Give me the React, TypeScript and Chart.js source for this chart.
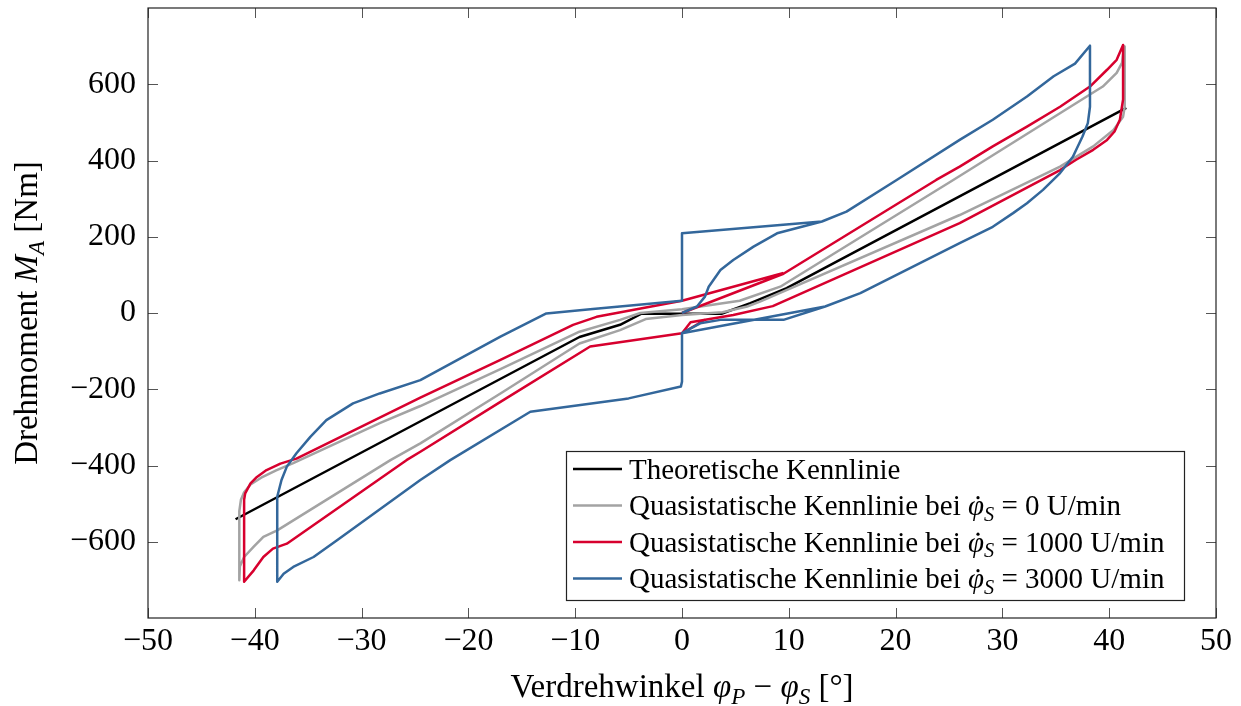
import React, { useEffect, useRef } from "react";
import { Chart, registerables } from "chart.js";

Chart.register(...registerables);

const FONT = "'Liberation Serif', 'Times New Roman', serif";
const TICK_SIZE = 32;
const TITLE_SIZE = 33;
const LEGEND_SIZE = 29;

const xTickValues = [-50, -40, -30, -20, -10, 0, 10, 20, 30, 40, 50];
const yTickValues = [-600, -400, -200, 0, 200, 400, 600];

// Theoretische Kennlinie
const theoX = [-41.8, -9.6, -5.8, -3.8, 3.7, 6.4, 9.8, 41.6];
const theoY = [-541, -63, -31, -2, -2, 26, 65, 538];

// Quasistatische Kennlinie, 0 U/min (null = Lücke)
const q0X = [
  -41.45, -41.45, -41.3, -41.0, -40.4, -39.4, -38.0, -36.4, -28.3, -24.5, -17, -9.6, -5.8, -3.9, 0, 5.4, 9.2,
  25.4, 37.9, 39.4, 40.7, 41.2, 41.4,
  41.45, 41.45, 41.3, 40.4, 38.5, 35.4, 26, 7.3, 6.1, 3.8, 0, -3.4, -5.8, -9.6, -17, -24.5, -27.3, -37.9,
  -39.2, -40.1, -41.0, -41.4, -41.45,
];
const q0Y = [
  -701, -520, -490, -470, -450, -432, -413, -394, -289, -244, -147, -49, -18, 0, 10, 32, 69,
  349, 568, 594, 630, 656, 699,
  699, 540, 515, 480, 437, 384, 257, 30, 17, 2, -5, -16, -45, -80, -211, -342, -386, -570,
  -587, -613, -640, -665, -701,
];

// Quasistatische Kennlinie, 1000 U/min
const q1000X = [
  0, 9.5, 23.8, 26, 29.1, 32.3, 35.4, 38.2, 39.8, 40.7, 41.3,
  41.3, 41.0, 40.5, 39.8, 38.5, 36.9, 35.4, 26, 8.5, 4.8, 0.8, 0, -8.6, -17, -24.5, -25.8, -37, -38.3,
  -39.2, -40.1, -41.0,
  -41.0, -40.9, -40.4, -39.8, -38.9, -37.6, -36.1, -24.5, -17, -10.2, -8, 0, 9.5,
  null, 0, 2.2,
];
const q1000Y = [
  0, 103, 349, 384, 437, 489, 541, 594, 638, 664, 703,
  560, 507, 476, 454, 428, 402, 375, 236, 18, -5, -24, -53, -88, -233, -364, -386, -605, -618,
  -640, -675, -705,
  -490, -473, -447, -430, -412, -395, -382, -222, -123, -31, -10, 32, 105,
  null, -53, -17,
];

// Quasistatische Kennlinie, 3000 U/min
const q3000X = [
  0, 1.4, 2.15, 2.5, 3.6, 4.8, 6.7, 8.9, 13.1, 15.4, 20.1, 26, 29.1, 32.3, 34.8, 36.8, 38.2,
  38.2, 38.0, 37.5, 36.6, 35.4, 33.8, 32.3, 31, 29.1, 26, 16.7, 13.4, 9.5, 3.6, 1.7, 0, 0, -0.1,
  -5, -14.2, -21.7, -24.5, -32.3, -34.5, -36.4, -37.3, -37.9,
  -37.9, -37.5, -37, -36.1, -34.8, -33.3, -30.8, -28.3, -24.5, -17, -12.7, -8.6, 0, 0, 13.1,
  null, 13.4, 0,
];
const q3000Y = [
  0, 17, 43, 69, 113, 139, 174, 209, 240, 266, 349, 454, 507, 568, 621, 654, 701,
  541, 498, 463, 410, 367, 323, 288, 262, 226, 183, 52, 17, -18, -18, -27, -53, -180, -193,
  -224, -259, -386, -438, -596, -640, -666, -684, -705,
  -482, -438, -403, -368, -325, -281, -237, -211, -176, -62, -1, 10, 32, 209, 240,
  null, 17, -53,
];

const seriesX = [theoX, q0X, q1000X, q3000X];
const seriesY = [theoY, q0Y, q1000Y, q3000Y];
const seriesColors = ["#000000", "#a3a3a3", "#d7002e", "#33679b"];
const legendRpm = [null, "0", "1000", "3000"];

type Seg = { t: string; it?: boolean; sub?: boolean; dot?: boolean };

const segFont = (s: Seg, size: number) =>
  `${s.it ? "italic " : ""}${s.sub ? size * 0.7 : size}px ${FONT}`;

function measureRich(ctx: CanvasRenderingContext2D, segs: Seg[], size: number) {
  let w = 0;
  for (const s of segs) {
    ctx.font = segFont(s, size);
    w += ctx.measureText(s.t).width;
  }
  return w;
}

function drawRich(ctx: CanvasRenderingContext2D, segs: Seg[], x: number, y: number, size: number) {
  let cx = x;
  ctx.textBaseline = "alphabetic";
  ctx.textAlign = "left";
  for (const s of segs) {
    ctx.font = segFont(s, size);
    const w = ctx.measureText(s.t).width;
    ctx.fillText(s.t, cx, y + (s.sub ? size * 0.2 : 0));
    if (s.dot) {
      ctx.beginPath();
      ctx.arc(cx + w * 0.62, y - size * 0.6, size * 0.055, 0, Math.PI * 2);
      ctx.fill();
    }
    cx += w;
  }
}

const fmt = (v: number) => (v < 0 ? "\u2212" + Math.abs(v) : String(v));

const decorPlugin = {
  id: "decor",
  afterDraw(chart: any) {
    const { ctx, chartArea: a, scales } = chart;
    ctx.save();

    // inward ticks on all four sides
    ctx.strokeStyle = "#555";
    ctx.lineWidth = 1;
    const tl = 10;
    ctx.beginPath();
    for (const v of xTickValues) {
      const px = Math.round(scales.x.getPixelForValue(v)) + 0.5;
      ctx.moveTo(px, a.bottom);
      ctx.lineTo(px, a.bottom - tl);
      ctx.moveTo(px, a.top);
      ctx.lineTo(px, a.top + tl);
    }
    for (const v of yTickValues) {
      const py = Math.round(scales.y.getPixelForValue(v)) + 0.5;
      ctx.moveTo(a.left, py);
      ctx.lineTo(a.left + tl, py);
      ctx.moveTo(a.right, py);
      ctx.lineTo(a.right - tl, py);
    }
    ctx.stroke();

    // frame
    ctx.strokeStyle = "#222";
    ctx.lineWidth = 1.2;
    ctx.strokeRect(a.left, a.top, a.right - a.left, a.bottom - a.top);

    ctx.fillStyle = "#000";

    // x axis title
    const xTitle: Seg[] = [
      { t: "Verdrehwinkel " },
      { t: "\u03c6", it: true },
      { t: "P", it: true, sub: true },
      { t: " \u2212 " },
      { t: "\u03c6", it: true },
      { t: "S", it: true, sub: true },
      { t: " [\u00b0]" },
    ];
    const xw = measureRich(ctx, xTitle, TITLE_SIZE);
    drawRich(ctx, xTitle, (a.left + a.right) / 2 - xw / 2, 697, TITLE_SIZE);

    // y axis title
    const yTitle: Seg[] = [
      { t: "Drehmoment " },
      { t: "M", it: true },
      { t: "A", it: true, sub: true },
      { t: " [Nm]" },
    ];
    const yw = measureRich(ctx, yTitle, TITLE_SIZE);
    ctx.save();
    ctx.translate(37, (a.top + a.bottom) / 2);
    ctx.rotate(-Math.PI / 2);
    drawRich(ctx, yTitle, -yw / 2, 0, TITLE_SIZE);
    ctx.restore();

    // legend
    const bx = 566, by = 451, bw = 618, bh = 149;
    ctx.fillStyle = "#fff";
    ctx.fillRect(bx, by, bw, bh);
    ctx.strokeStyle = "#222";
    ctx.lineWidth = 1.2;
    ctx.strokeRect(bx + 0.5, by + 0.5, bw, bh);
    const rowY = [469, 505.5, 542, 578.5];
    for (let i = 0; i < 4; i++) {
      const y = rowY[i];
      ctx.strokeStyle = seriesColors[i];
      ctx.lineWidth = 2.5;
      ctx.beginPath();
      ctx.moveTo(573, y);
      ctx.lineTo(622, y);
      ctx.stroke();
      ctx.fillStyle = "#000";
      const rpm = legendRpm[i];
      const segs: Seg[] =
        rpm === null
          ? [{ t: "Theoretische Kennlinie" }]
          : [
              { t: "Quasistatische Kennlinie bei " },
              { t: "\u03c6", it: true, dot: true },
              { t: "S", it: true, sub: true },
              { t: " = " + rpm + " U/min" },
            ];
      drawRich(ctx, segs, 629, y + LEGEND_SIZE * 0.33, LEGEND_SIZE);
    }

    ctx.restore();
  },
};

export default function App() {
  const ref = useRef<HTMLCanvasElement | null>(null);

  useEffect(() => {
    if (!ref.current) return;
    const datasets = seriesX.map((xs, i) => ({
      data: xs.map((x, j) => ({ x: x as any, y: seriesY[i][j] as any })),
      borderColor: seriesColors[i],
      backgroundColor: seriesColors[i],
      borderWidth: 2.5,
      pointRadius: 0,
      tension: 0,
      fill: false,
      spanGaps: false,
      order: 4 - i,
      borderJoinStyle: "round" as const,
    }));

    const chart = new Chart(ref.current, {
      type: "line",
      data: { datasets },
      options: {
        responsive: false,
        animation: false,
        devicePixelRatio: 1,
        events: [],
        layout: { padding: { left: 0, right: 25, top: 8, bottom: 0 } },
        plugins: { legend: { display: false }, tooltip: { enabled: false } },
        scales: {
          x: {
            type: "linear",
            min: -50,
            max: 50,
            grid: { display: false, drawTicks: false },
            border: { display: false },
            afterBuildTicks: (s: any) => {
              s.ticks = xTickValues.map((v) => ({ value: v }));
            },
            afterFit: (s: any) => {
              s.height = 88;
              s.paddingLeft = 0;
              s.paddingRight = 0;
            },
            ticks: {
              autoSkip: false,
              maxRotation: 0,
              padding: 4,
              color: "#000",
              font: { family: FONT, size: TICK_SIZE },
              callback: (v: any) => fmt(Number(v)),
            },
          },
          y: {
            type: "linear",
            min: -800,
            max: 800,
            grid: { display: false, drawTicks: false },
            border: { display: false },
            afterBuildTicks: (s: any) => {
              s.ticks = yTickValues.map((v) => ({ value: v }));
            },
            afterFit: (s: any) => {
              s.width = 148;
              s.paddingTop = 0;
              s.paddingBottom = 0;
            },
            ticks: {
              autoSkip: false,
              padding: 12,
              color: "#000",
              font: { family: FONT, size: TICK_SIZE },
              callback: (v: any) => fmt(Number(v)),
            },
          },
        },
      },
      plugins: [decorPlugin],
    });
    return () => chart.destroy();
  }, []);

  return (
    <div style={{ position: "fixed", left: 0, top: 0, width: 1241, height: 706, background: "#fff" }}>
      <canvas ref={ref} width={1241} height={706} style={{ width: 1241, height: 706, display: "block" }} />
    </div>
  );
}
